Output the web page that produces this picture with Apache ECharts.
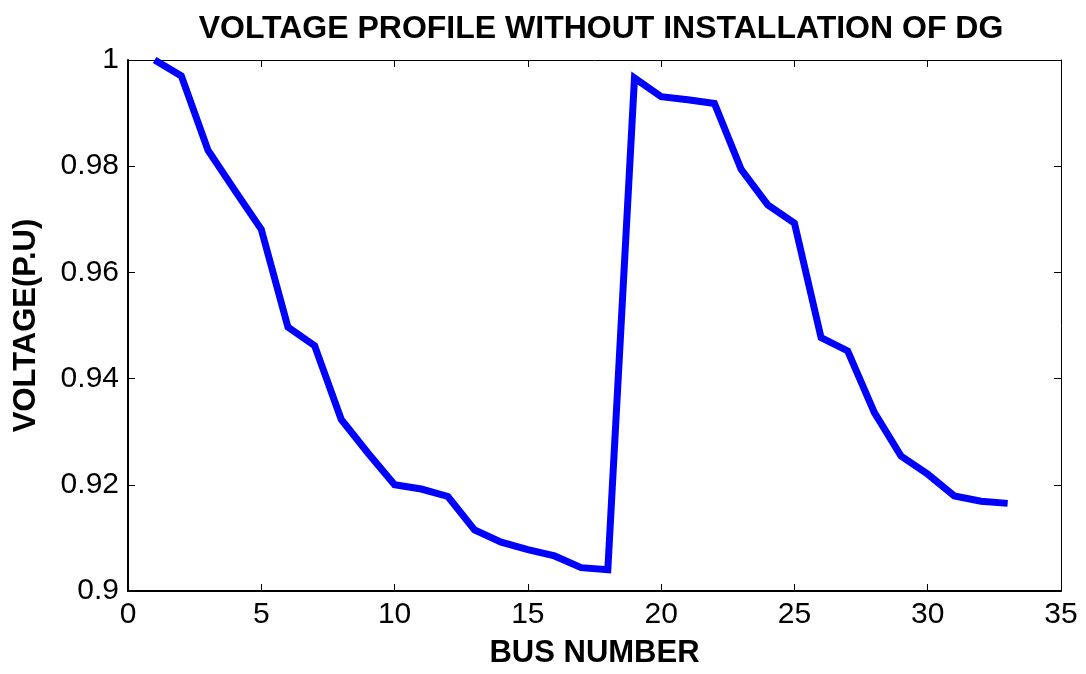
<!DOCTYPE html>
<html lang="en">

<head>
    <meta charset="UTF-8" />
    <title>Voltage profile</title>
    <script src="https://cdn.jsdelivr.net/npm/echarts@6.0.0/dist/echarts.min.js"></script>
    <style>
        body { margin: 0; background: #fff; }
    </style>
</head>

<body>
    <div id="main" style="width: 1086px; height: 674px;"></div>

    <script>
        const busNumbers = [1, 2, 3, 4, 5, 6, 7, 8, 9, 10, 11, 12, 13, 14, 15, 16, 17,
            18, 19, 20, 21, 22, 23, 24, 25, 26, 27, 28, 29, 30, 31, 32, 33];
        const voltages = [1.0, 0.9970, 0.9830, 0.9755, 0.9681, 0.9497, 0.9462, 0.9323,
            0.9260, 0.9200, 0.9192, 0.9178, 0.9115, 0.9092, 0.9078, 0.9066, 0.9044,
            0.9040, 0.9966, 0.9931, 0.9925, 0.9918, 0.9794, 0.9727, 0.9693, 0.9477,
            0.9452, 0.9336, 0.9254, 0.9220, 0.9179, 0.9169, 0.9165];

        const font = 'Liberation Sans, Arial, sans-serif';
        const myChart = echarts.init(document.getElementById("main"));

        const hiddenLabels = { show: false };
        const tick = (w) => ({ show: true, inside: true, length: 7, lineStyle: { color: '#000', width: w } });

        const options = {
            animation: false,
            backgroundColor: '#fff',
            title: {
                text: 'VOLTAGE PROFILE WITHOUT INSTALLATION OF DG',
                left: 596,
                textAlign: 'center',
                top: 8,
                textStyle: { fontFamily: font, fontSize: 32, fontWeight: 'bold', color: '#000' }
            },
            grid: { left: 128, right: 25, top: 60, bottom: 80 },
            xAxis: [{
                type: 'value',
                min: 0, max: 35, interval: 5,
                name: 'BUS NUMBER',
                nameLocation: 'middle',
                nameGap: 47,
                nameTextStyle: { fontFamily: font, fontSize: 31, fontWeight: 'bold', color: '#000' },
                axisLine: { show: true, onZero: false, lineStyle: { color: '#000', width: 2 } },
                axisTick: tick(1),
                axisLabel: { fontFamily: font, fontSize: 30, color: '#000', margin: 9 },
                splitLine: { show: false }
            }, {
                type: 'value', position: 'top',
                min: 0, max: 35, interval: 5,
                axisLine: { show: true, onZero: false, lineStyle: { color: '#000', width: 1 } },
                axisTick: tick(1),
                axisLabel: hiddenLabels,
                splitLine: { show: false }
            }],
            yAxis: [{
                type: 'value',
                min: 0.9, max: 1, interval: 0.02,
                name: 'VOLTAGE(P.U)',
                nameLocation: 'middle',
                nameGap: 86,
                nameTextStyle: { fontFamily: font, fontSize: 31, fontWeight: 'bold', color: '#000' },
                axisLine: { show: true, onZero: false, lineStyle: { color: '#000', width: 2 } },
                axisTick: tick(1),
                axisLabel: { fontFamily: font, fontSize: 30, color: '#000', margin: 9 },
                splitLine: { show: false }
            }, {
                type: 'value', position: 'right',
                min: 0.9, max: 1, interval: 0.02,
                axisLine: { show: true, onZero: false, lineStyle: { color: '#000', width: 1 } },
                axisTick: tick(1),
                axisLabel: hiddenLabels,
                splitLine: { show: false }
            }],
            series: [{
                name: 'Voltage',
                type: 'line',
                showSymbol: false,
                symbol: 'none',
                lineStyle: { color: '#0000ff', width: 7, join: 'miter' },
                data: busNumbers.map((b, i) => [b, voltages[i]])
            }]
        };

        myChart.setOption(options);
    </script>
</body>

</html>
